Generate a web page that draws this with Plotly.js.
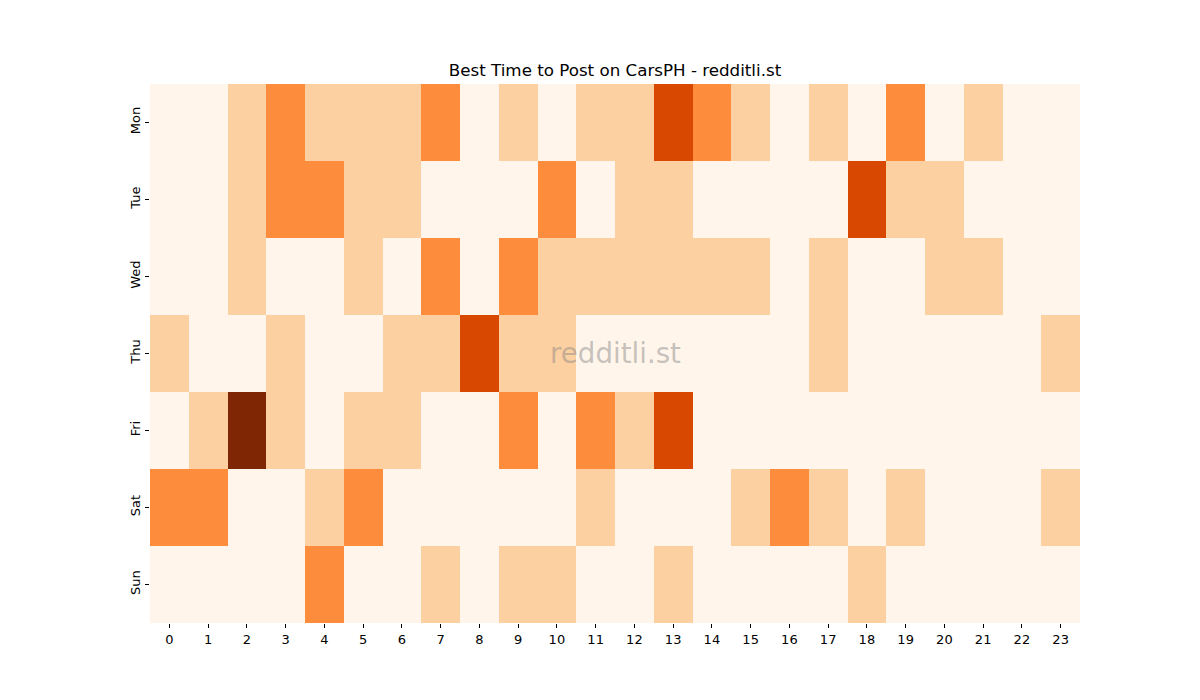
<!DOCTYPE html>
<html><head><meta charset="utf-8">
<script src="https://cdn.plot.ly/plotly-3.0.1.min.js"></script>
<style>body{margin:0;background:#fff}#chart{width:1200px;height:700px}</style>
</head><body><div id="chart"></div>
<script>
const hours = ["0","1","2","3","4","5","6","7","8","9","10","11","12","13","14","15","16","17","18","19","20","21","22","23"];
const days = ["Mon","Tue","Wed","Thu","Fri","Sat","Sun"];
const mon = [0,0,1,2,1,1,1,2,0,1,0,1,1,3,2,1,0,1,0,2,0,1,0,0];
const tue = [0,0,1,2,2,1,1,0,0,0,2,0,1,1,0,0,0,0,3,1,1,0,0,0];
const wed = [0,0,1,0,0,1,0,2,0,2,1,1,1,1,1,1,0,1,0,0,1,1,0,0];
const thu = [1,0,0,1,0,0,1,1,3,1,1,0,0,0,0,0,0,1,0,0,0,0,0,1];
const fri = [0,1,4,1,0,1,1,0,0,2,0,2,1,3,0,0,0,0,0,0,0,0,0,0];
const sat = [2,2,0,0,1,2,0,0,0,0,0,1,0,0,0,1,2,1,0,1,0,0,0,1];
const sun = [0,0,0,0,2,0,0,1,0,1,1,0,0,1,0,0,0,0,1,0,0,0,0,0];
const values = [mon,tue,wed,thu,fri,sat,sun];

const trace = {
  type: 'heatmap',
  x: hours, y: days, z: values,
  zmin: 0, zmax: 4,
  colorscale: [[0,'#fff5eb'],[0.25,'#fdd0a2'],[0.5,'#fd8d3c'],[0.75,'#d94801'],[1,'#7f2704']],
  showscale: false,
  xgap: 0, ygap: 0,
  hoverinfo: 'x+y+z'
};
const layout = {
  width: 1200, height: 700,
  margin: {l:150, r:120, t:84, b:77},
  paper_bgcolor: '#fff', plot_bgcolor: '#fff',
  font: {family: 'DejaVu Sans, sans-serif', size: 13, color: '#000'},
  title: {text: 'Best Time to Post on CarsPH - redditli.st', xref: 'paper', x: 0.5, xanchor: 'center', y: 1 - 70/700, yanchor: 'middle', font: {size: 16.7, color: '#000'}},
  xaxis: {type: 'category', showgrid: false, zeroline: false, ticks: 'outside', ticklen: 4, tickcolor: '#000', tickfont: {size: 13}, showline: false},
  yaxis: {type: 'category', autorange: 'reversed', showgrid: false, zeroline: false, ticks: 'outside', ticklen: 4, tickcolor: '#000', tickangle: -90, tickfont: {size: 13}, showline: false},
  annotations: [{
    text: 'redditli.st', xref: 'paper', yref: 'paper', x: 0.5, y: 0.5, showarrow: false,
    font: {size: 27.7, color: 'rgba(128,128,128,0.45)'}
  }]
};
Plotly.newPlot('chart', [trace], layout, {staticPlot: true});
</script></body></html>
